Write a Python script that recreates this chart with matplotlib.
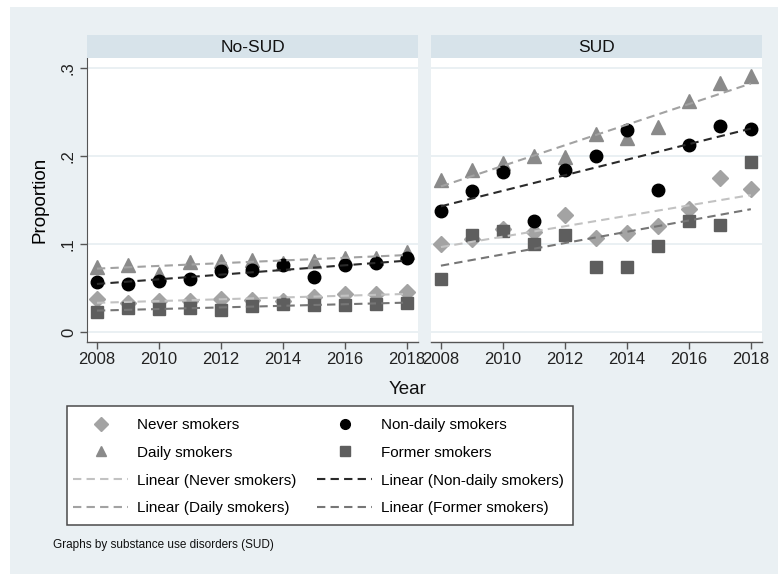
import numpy as np
import matplotlib
matplotlib.use("Agg")
import matplotlib.pyplot as plt
from matplotlib.lines import Line2D
from matplotlib.patches import Rectangle

plt.rcParams['font.family'] = ['Liberation Sans', 'DejaVu Sans']

years = list(range(2008, 2019))
panels = ["No-SUD", "SUD"]

# No-SUD
nosud_never = [0.037, 0.033, 0.035, 0.035, 0.038, 0.036, 0.035, 0.040, 0.043, 0.043, 0.045]
nosud_daily = [0.074, 0.076, 0.066, 0.080, 0.081, 0.082, 0.078, 0.081, 0.084, 0.084, 0.091]
nosud_nondaily = [0.057, 0.055, 0.058, 0.060, 0.069, 0.071, 0.076, 0.062, 0.076, 0.078, 0.084]
nosud_former = [0.023, 0.027, 0.026, 0.027, 0.025, 0.030, 0.032, 0.031, 0.031, 0.032, 0.033]

# SUD
sud_never = [0.100, 0.106, 0.117, 0.114, 0.133, 0.107, 0.112, 0.120, 0.140, 0.175, 0.163]
sud_daily = [0.173, 0.184, 0.192, 0.200, 0.199, 0.225, 0.220, 0.233, 0.263, 0.283, 0.291]
sud_nondaily = [0.137, 0.160, 0.182, 0.126, 0.184, 0.200, 0.230, 0.161, 0.212, 0.234, 0.231]
sud_former = [0.060, 0.110, 0.115, 0.100, 0.110, 0.074, 0.074, 0.098, 0.126, 0.122, 0.193]

series_names = ["Never smokers", "Daily smokers", "Non-daily smokers", "Former smokers"]
panel_data = [
    [nosud_never, nosud_daily, nosud_nondaily, nosud_former],
    [sud_never, sud_daily, sud_nondaily, sud_former],
]
yticks = [0, 0.1, 0.2, 0.3]
ytick_labels = ["0", ".1", ".2", ".3"]
xticks = [2008, 2010, 2012, 2014, 2016, 2018]

markers = ["D", "^", "o", "s"]
msizes = [8, 10, 9, 8.5]
mcolors = ["#a3a3a3", "#8a8a8a", "#000000", "#5e5e5e"]
lcolors = ["#c2c2c2", "#a2a2a2", "#2a2a2a", "#767676"]

W, H = 778, 574
fig = plt.figure(figsize=(W / 100, H / 100), dpi=100)
fig.patch.set_facecolor("white")
bg = Rectangle((10 / W, 0), 1 - 10 / W, 1 - 7 / H, transform=fig.transFigure,
               facecolor="#eaf0f3", edgecolor="none", zorder=-10)
fig.patches.append(bg)

def fx(px):
    return px / W

def fy(py):
    return 1 - py / H

ax_lefts = [87, 431]
ax_width = 331
ax_top, ax_bot = 58, 342
strip_top = 35

axes = []
for i, name in enumerate(panels):
    ax = fig.add_axes([fx(ax_lefts[i]), fy(ax_bot), ax_width / W, (ax_bot - ax_top) / H])
    ax.set_facecolor("white")
    ax.set_xlim(2007.68, 2018.36)
    ax.set_ylim(-0.0114, 0.3114)
    for yv in yticks:
        ax.axhline(yv, color="#e6eef1", lw=1.2, zorder=0)
    x = np.array(years)
    for j in range(4):
        y = np.array(panel_data[i][j])
        ax.plot(years, y, linestyle="none", marker=markers[j], ms=msizes[j],
                color=mcolors[j], mec=mcolors[j], zorder=3)
    for j in range(4):
        y = np.array(panel_data[i][j])
        b, a = np.polyfit(x, y, 1)
        ax.plot([2008, 2018], [a + b * 2008, a + b * 2018], linestyle=(0, (4, 2.5)),
                color=lcolors[j], lw=1.5, zorder=4)
    for s in ["top", "right"]:
        ax.spines[s].set_visible(False)
    ax.spines["bottom"].set_color("#555555")
    ax.spines["bottom"].set_linewidth(1.0)
    ax.set_xticks(xticks)
    ax.set_xticklabels([str(t) for t in xticks], fontsize=12, color="#222222")
    ax.tick_params(axis="x", length=5, width=1, color="#555555", pad=2)
    if i == 0:
        ax.spines["left"].set_color("#555555")
        ax.set_yticks(yticks)
        ax.set_yticklabels(ytick_labels, fontsize=12, rotation=90, va="center", color="#222222")
        ax.tick_params(axis="y", length=5, width=1, color="#555555", pad=3)
        ax.set_ylabel("Proportion", fontsize=13.5, labelpad=9)
    else:
        ax.spines["left"].set_visible(False)
        ax.set_yticks([])
    sax = fig.add_axes([fx(ax_lefts[i]), fy(ax_top), ax_width / W, (ax_top - strip_top) / H])
    sax.set_facecolor("#d7e3ea")
    sax.set_xticks([])
    sax.set_yticks([])
    for s in sax.spines.values():
        s.set_visible(False)
    sax.text(0.5, 0.45, name, ha="center", va="center", fontsize=12.5,
             transform=sax.transAxes, color="#111111")
    axes.append(ax)

fig.text(fx(408), fy(389), "Year", ha="center", va="center", fontsize=13.5, color="#111111")

# legend frame
frame = Rectangle((fx(67), fy(525)), (573 - 67) / W, (525 - 406) / H, transform=fig.transFigure,
                  facecolor="white", edgecolor="#4a4a4a", lw=1.1, zorder=1)
fig.patches.append(frame)

handles = [
    Line2D([], [], linestyle="none", marker="D", ms=7, color=mcolors[0]),
    Line2D([], [], linestyle="none", marker="^", ms=7.5, color=mcolors[1]),
    Line2D([], [], linestyle=(0, (4, 2.5)), lw=1.5, color=lcolors[0]),
    Line2D([], [], linestyle=(0, (4, 2.5)), lw=1.5, color=lcolors[1]),
    Line2D([], [], linestyle="none", marker="o", ms=7, color=mcolors[2]),
    Line2D([], [], linestyle="none", marker="s", ms=6.5, color=mcolors[3]),
    Line2D([], [], linestyle=(0, (4, 2.5)), lw=1.5, color=lcolors[2]),
    Line2D([], [], linestyle=(0, (4, 2.5)), lw=1.5, color=lcolors[3]),
]
labels = [
    "Never smokers", "Daily smokers", "Linear (Never smokers)", "Linear (Daily smokers)",
    "Non-daily smokers", "Former smokers", "Linear (Non-daily smokers)", "Linear (Former smokers)",
]
leg = fig.legend(handles, labels, ncol=2, loc="upper left",
                 bbox_to_anchor=(fx(73), fy(418)), fontsize=11,
                 frameon=False, handlelength=3.6,
                 handletextpad=0.6, columnspacing=1.35, labelspacing=0.9,
                 borderpad=0, borderaxespad=0, numpoints=1)
leg.set_zorder(2)

fig.text(fx(53), fy(545), "Graphs by substance use disorders (SUD)", ha="left", va="center",
         fontsize=8.5, color="#111111")

fig.savefig("out.png", dpi=100)
